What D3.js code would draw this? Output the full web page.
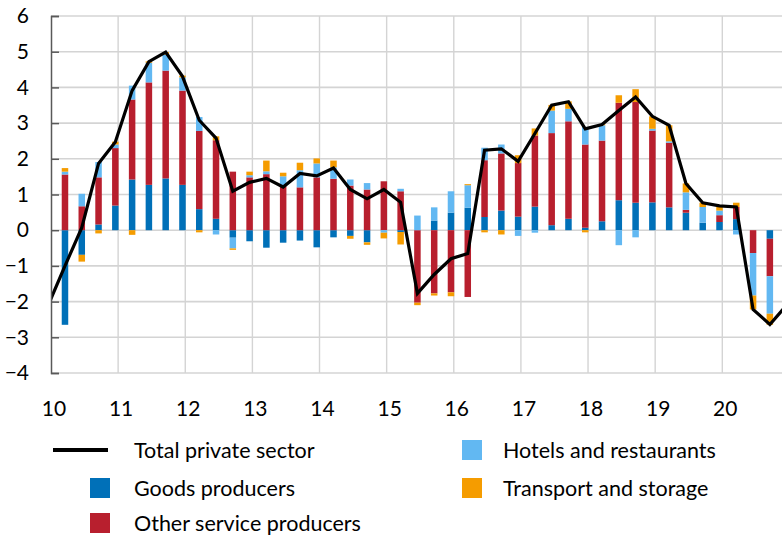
<!DOCTYPE html>
<html>
<head>
<meta charset="utf-8">
<script src="https://cdn.jsdelivr.net/npm/d3@7"></script>
<style>
html,body{margin:0;padding:0;background:#fff;}
svg{display:block;}
text{font-family:Lato,"Open Sans",sans-serif;fill:#000;}
</style>
</head>
<body>
<svg id="chart" width="782" height="537"></svg>
<script>
// Quarters 2010Q1 .. 2020Q3 (bars)
const quarters = [];
for (let y = 2010; y <= 2020; y++) for (let q = 1; q <= 4; q++) quarters.push(y + "Q" + q);
quarters.length = 43;

const goods     = [-2.65,-0.69,0.16,0.69,1.42,1.27,1.45,1.27,0.59,0.32,-0.21,-0.31,-0.49,-0.35,-0.29,-0.48,-0.20,-0.16,-0.34,0.00,-0.05,0.00,0.27,0.49,0.63,0.37,0.55,0.38,0.66,0.14,0.32,0.07,0.25,0.84,0.77,0.78,0.64,0.49,0.21,0.23,0.31,0.00,-0.24];
const services  = [1.56,0.67,1.32,1.61,2.24,2.87,3.02,2.64,2.19,2.20,1.64,1.48,1.57,1.23,1.20,1.48,1.44,1.25,1.14,1.37,1.09,-2.03,-1.77,-1.74,-1.87,1.59,1.60,1.50,1.99,2.58,2.73,2.33,2.26,2.73,2.82,2.01,1.81,0.08,0.00,0.19,0.34,-0.64,-1.05];
const hotels    = [0.08,0.35,0.43,0.10,0.39,0.55,0.45,0.37,0.39,-0.12,-0.30,0.06,0.08,0.28,0.48,0.39,0.32,0.17,0.18,-0.07,0.07,0.41,0.37,0.60,0.63,0.35,0.25,-0.16,-0.07,0.63,0.35,0.49,0.43,-0.42,-0.20,0.05,0.04,0.49,0.44,0.13,-0.12,-1.19,-1.05];
const transport = [0.10,-0.19,-0.09,0.08,-0.13,0.04,0.07,0.05,-0.06,0.11,-0.04,0.10,0.30,0.10,0.21,0.14,0.19,-0.08,-0.07,-0.16,-0.35,-0.07,-0.06,-0.11,0.03,-0.06,-0.12,0.22,0.20,0.16,0.21,-0.06,0.03,0.21,0.36,0.35,0.45,0.25,0.12,0.10,0.12,-0.39,-0.31];

// Total private sector line: 2009Q4 .. 2020Q4
const totalQuarters = ["2009Q4"].concat(quarters, ["2020Q4"]);
const total = [-2.10,-1.00,0.07,1.87,2.47,3.91,4.72,4.99,4.31,3.08,2.58,1.09,1.34,1.45,1.21,1.59,1.52,1.74,1.14,0.88,1.14,0.78,-1.77,-1.24,-0.80,-0.65,2.24,2.28,1.93,2.71,3.50,3.60,2.84,2.96,3.35,3.73,3.19,2.94,1.31,0.77,0.68,0.65,-2.22,-2.64,-2.10];

const yearLabels = ["10","11","12","13","14","15","16","17","18","19","20"];
const yTicks = [6,5,4,3,2,1,0,-1,-2,-3,-4];

const seriesNames = ["Goods producers","Other service producers","Hotels and restaurants","Transport and storage"];
const seriesData = [goods, services, hotels, transport];
const colors = ["#0070B8","#B81F2E","#62B8F2","#F59C00"];

const svg = d3.select("#chart");
const L = 51, R = 782, T = 16, B = 373;

// month-based x scale: month 0 = Jan 2010
const x = d3.scaleLinear().domain([0, 120]).range([L, 722.3]);
const y = d3.scaleLinear().domain([-4, 6]).range([B, T]);
function qMonth(label) {
  const yr = +label.slice(0,4), q = +label.slice(5);
  return (yr - 2010) * 12 + q * 3 - 1 + 0.5;
}

svg.append("defs").append("clipPath").attr("id","plot")
  .append("rect").attr("x", L).attr("y", T - 2).attr("width", R - L).attr("height", B - T + 4);

// gridlines
const grid = svg.append("g");
grid.selectAll("line.h").data(yTicks).enter().append("line")
  .attr("x1", L).attr("x2", R).attr("y1", d => y(d)).attr("y2", d => y(d))
  .attr("stroke", "#d4d4d4").attr("stroke-width", 1.6);
grid.selectAll("line.v").data(d3.range(1, 11)).enter().append("line")
  .attr("x1", d => x(d * 12)).attr("x2", d => x(d * 12)).attr("y1", T).attr("y2", B)
  .attr("stroke", "#d4d4d4").attr("stroke-width", 1.4);

// stacked bars (positive and negative stacks separately)
const barW = 6.5;
const bars = svg.append("g").attr("clip-path", "url(#plot)");
quarters.forEach((qt, i) => {
  let pos = 0, neg = 0;
  seriesData.forEach((s, k) => {
    const v = s[i];
    if (v === 0) return;
    let y0, y1;
    if (v > 0) { y0 = pos; y1 = pos + v; pos = y1; }
    else { y0 = neg; y1 = neg + v; neg = y1; }
    bars.append("rect")
      .attr("x", x(qMonth(qt)) - barW / 2)
      .attr("width", barW)
      .attr("y", y(Math.max(y0, y1)))
      .attr("height", Math.abs(y(y0) - y(y1)))
      .attr("fill", colors[k]);
  });
});

// total line
const line = d3.line().x((d, i) => x(qMonth(totalQuarters[i]))).y(d => y(d));
svg.append("path").attr("clip-path", "url(#plot)")
  .datum(total).attr("d", line)
  .attr("fill", "none").attr("stroke", "#000").attr("stroke-width", 3.2).attr("stroke-linejoin", "miter");

// y axis
const yAxis = d3.axisLeft(y).tickValues(yTicks).tickSize(-8).tickPadding(22).tickFormat(d3.format("d"));
const ya = svg.append("g").attr("transform", `translate(${L},0)`).call(yAxis);
ya.select(".domain").attr("stroke", "#595959").attr("stroke-width", 1.5);
ya.selectAll(".tick line").attr("stroke", "#595959").attr("stroke-width", 1.5);
ya.selectAll(".tick text").attr("font-size", 21).attr("font-family", "Lato").attr("fill", "#000");

// x labels
svg.append("g").selectAll("text").data(yearLabels).enter().append("text")
  .attr("x", (d, i) => x(i * 12) + 3).attr("y", 416)
  .attr("text-anchor", "middle").attr("font-size", 21).text(d => d);

// legend
const lg = svg.append("g");
lg.append("line").attr("x1", 53).attr("x2", 108).attr("y1", 450).attr("y2", 450)
  .attr("stroke", "#000").attr("stroke-width", 4);
const legendItems = [
  {name: "Total private sector", tx: 134, ty: 450},
  {name: seriesNames[0], tx: 134, ty: 488, sx: 90, c: colors[0]},
  {name: seriesNames[1], tx: 134, ty: 523, sx: 90, c: colors[1]},
  {name: seriesNames[2], tx: 503, ty: 450, sx: 462, c: colors[2]},
  {name: seriesNames[3], tx: 503, ty: 488, sx: 462, c: colors[3]}
];
legendItems.forEach(it => {
  if (it.c) lg.append("rect").attr("x", it.sx).attr("y", it.ty - 10).attr("width", 20).attr("height", 20).attr("fill", it.c);
  lg.append("text").attr("x", it.tx).attr("y", it.ty).attr("dy", "0.35em")
    .attr("font-size", 21.5).text(it.name);
});
</script>
</body>
</html>
